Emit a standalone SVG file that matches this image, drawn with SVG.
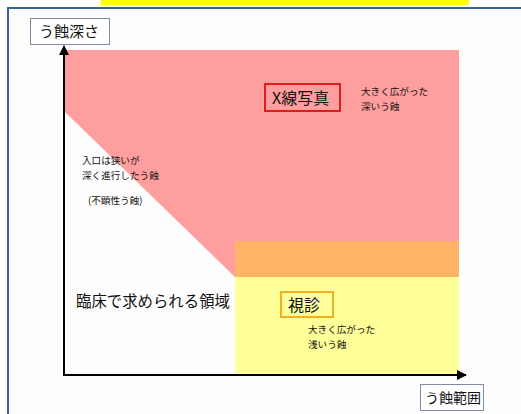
<svg xmlns="http://www.w3.org/2000/svg" width="521" height="414" viewBox="0 0 521 414">
<defs>
<style>
text{font-family:"Noto Sans CJK JP","Noto Sans",sans-serif;fill:#111}
.s{font-size:9.6px}
.m{font-size:15px}
.lbl{fill:#fff;stroke:#7f8ba3;stroke-width:1}
.ax{stroke:#000;stroke-width:2;fill:none}
</style>
<marker id="ah" viewBox="0 0 10 10" refX="9" refY="5" markerWidth="5" markerHeight="5" orient="auto">
<path d="M0,0 L10,5 L0,10 Z" fill="#000"/>
</marker>
</defs>
<rect x="0" y="0" width="521" height="414" fill="#fff"/>
<rect x="101" y="0" width="368" height="5" fill="#ffff00"/>
<rect x="8" y="8" width="530" height="420" fill="#fdfdfd" stroke="#3d6299" stroke-width="2"/>
<g id="regions">
<polygon id="xray-region" points="65,50 459,50 459,277 235,277 65,112" fill="#ff9e9e"/>
<rect id="overlap-region" x="235" y="241" width="224" height="36" fill="#ffb366"/>
<rect id="visual-region" x="235" y="277" width="224" height="98" fill="#ffff99"/>
</g>
<g id="connectors">
<line class="ax" x1="64" y1="376" x2="64" y2="46" marker-end="url(#ah)"/>
<line class="ax" x1="63" y1="375" x2="466" y2="375" marker-end="url(#ah)"/>
</g>
<g id="y-label">
<rect class="lbl" x="30.5" y="18.5" width="79" height="26"/>
<text class="m" x="39" y="37">う蝕深さ</text>
</g>
<g id="x-label">
<rect class="lbl" x="420.5" y="384.5" width="63" height="26"/>
<text class="m" x="425" y="403" style="font-size:14px">う蝕範囲</text>
</g>
<g id="xray">
<rect x="265" y="84" width="75" height="27" fill="none" stroke="#e41b1b" stroke-width="2"/>
<text x="272" y="104" style="font-size:16px">X線写真</text>
<text class="s" x="361" y="95">大きく広がった</text>
<text class="s" x="361" y="109.5">深いう蝕</text>
</g>
<g id="hidden">
<text class="s" x="82" y="164">入口は狭いが</text>
<text class="s" x="82" y="178.5">深く進行したう蝕</text>
<text class="s" x="88" y="204">(不顕性う蝕)</text>
</g>
<g id="clinical">
<text x="76" y="307" style="font-size:15.4px">臨床で求められる領域</text>
</g>
<g id="visual">
<rect x="281" y="292" width="52" height="25" fill="none" stroke="#f0b020" stroke-width="2"/>
<text x="288" y="311" style="font-size:16px">視診</text>
<text class="s" x="308" y="333">大きく広がった</text>
<text class="s" x="308" y="347.5">浅いう蝕</text>
</g>
</svg>
